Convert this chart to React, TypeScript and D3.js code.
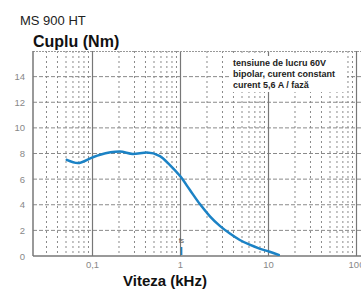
import React from "react";
import * as d3 from "d3";

const speedKHz = [0.051, 0.068, 0.1, 0.122, 0.205, 0.288, 0.416, 0.584, 0.758, 1.0, 1.28, 1.66, 2.16, 2.8, 3.64, 4.72, 6.1, 7.9, 10.3, 13.1];
const torqueNm = [7.5, 7.25, 7.7, 7.9, 8.15, 7.97, 8.07, 7.8, 7.1, 6.2, 5.15, 4.05, 3.1, 2.35, 1.75, 1.25, 0.88, 0.58, 0.33, 0.08];
const yTicks = [0, 2, 4, 6, 8, 10, 12, 14];
const xTicks = [0.1, 1, 10, 100];
const xTickLabels = ["0,1", "1", "10", "100"];
const noteLines = ["tensiune de lucru 60V", "bipolar, curent constant", "curent 5,6 A / fază"];
const fsSpeed = 1.03;

const W = 361, H = 289;
const left = 33, top = 51, bottom = 256, right = 372;

export default function App() {
  const x = d3.scaleLog().domain([0.1, 10]).range([92.5, 268.5]);
  const y = d3.scaleLinear().domain([0, 16]).range([bottom, top]);
  const x0 = x.invert(left);
  const x1 = x.invert(right);

  const minor: number[] = [];
  for (let e = -2; e <= 2; e++) {
    for (let k = 2; k <= 9; k++) {
      const v = k * Math.pow(10, e);
      if (v > x0 && v < x1) minor.push(v);
    }
  }
  const decades = xTicks.filter((v) => v > x0 && v < x1);

  const pts: [number, number][] = speedKHz.map((s, i) => [x(s), y(torqueNm[i])]);
  const line = d3.line().curve(d3.curveMonotoneX)(pts) || "";

  const font = "Arial, 'Liberation Sans', Helvetica, sans-serif";

  return (
    <svg width={W} height={H} style={{ position: "absolute", left: 0, top: 0, background: "#fff" }} fontFamily={font}>
      <defs>
        <clipPath id="plot">
          <rect x={left} y={top} width={right - left} height={bottom - top} />
        </clipPath>
      </defs>
      <text x={20} y={25} fontSize={13} fill="#222">MS 900 HT</text>
      <text x={33} y={47} fontSize={16} fontWeight="bold" fill="#111">Cuplu (Nm)</text>

      <g clipPath="url(#plot)">
        {minor.map((v) => (
          <line key={"m" + v} x1={x(v)} x2={x(v)} y1={top} y2={bottom} stroke="#8a8a8a" strokeWidth={1} strokeDasharray="2,3" />
        ))}
        {yTicks.filter((t) => t > 0).map((t) => (
          <line key={"h" + t} x1={left} x2={right} y1={y(t)} y2={y(t)} stroke="#8a8a8a" strokeWidth={1} strokeDasharray="4,2" />
        ))}
        {decades.map((v) => (
          <line key={"d" + v} x1={x(v)} x2={x(v)} y1={top} y2={bottom} stroke="#777" strokeWidth={1.2} />
        ))}
        <line x1={left} x2={right} y1={top + 0.5} y2={top + 0.5} stroke="#999" strokeWidth={1} strokeDasharray="2,1" />
      </g>

      <rect x={229} y={56} width={118} height={36} fill="#fff" />
      {noteLines.map((t, i) => (
        <text key={t} x={233} y={66 + i * 11} fontSize={9} fontWeight="bold" fill="#222">{t}</text>
      ))}

      <line x1={left} x2={left} y1={top} y2={bottom} stroke="#777" strokeWidth={1.5} />
      <line x1={left} x2={right} y1={bottom} y2={bottom} stroke="#777" strokeWidth={1.5} />

      <path d={line} fill="none" stroke="#1b82c5" strokeWidth={2.5} strokeLinecap="round" clipPath="url(#plot)" />

      <line x1={x(fsSpeed)} x2={x(fsSpeed)} y1={247} y2={255} stroke="#1b82c5" strokeWidth={1.5} />
      <text x={x(fsSpeed) - 3} y={243} fontSize={7} fill="#555">fs</text>

      {yTicks.map((t) => (
        <text key={"yl" + t} x={25} y={y(t) + 3.5} fontSize={9.5} fill="#888" textAnchor="end">{t}</text>
      ))}
      {xTicks.map((v, i) => (
        <text key={"xl" + v} x={x(v)} y={268} fontSize={9.5} fill="#888" textAnchor="middle">{xTickLabels[i]}</text>
      ))}

      <text x={123} y={286} fontSize={15} fontWeight="bold" fill="#111">Viteza (kHz)</text>
    </svg>
  );
}
